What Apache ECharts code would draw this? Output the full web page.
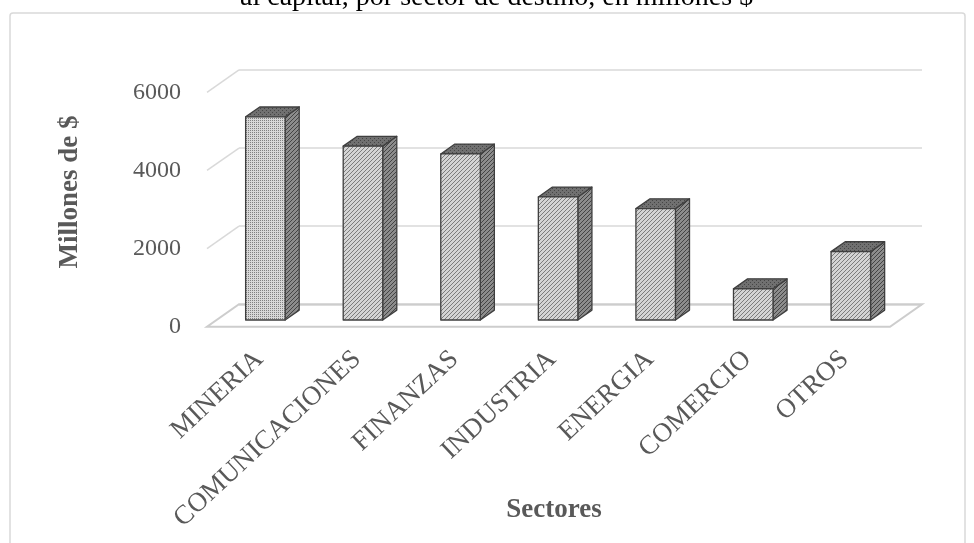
<!DOCTYPE html>
<html>
<head>
<meta charset="utf-8">
<script src="https://cdn.jsdelivr.net/npm/echarts@6/dist/echarts.min.js"></script>
<style>
  html, body { margin: 0; padding: 0; background: #fff; }
  #chart { width: 974px; height: 543px; }
</style>
</head>
<body>
<div id="chart"></div>
<script>
// Sectors and investment amounts (millions of $)
const categories = ['MINERIA', 'COMUNICACIONES', 'FINANZAS', 'INDUSTRIA', 'ENERGIA', 'COMERCIO', 'OTROS'];
const values = [5200, 4450, 4250, 3150, 2850, 800, 1750];
const yTicks = [0, 2000, 4000, 6000];

const SERIF = "'Liberation Serif', 'Times New Roman', serif";

// Pseudo-3D layout: front plane, plane where the bar fronts sit, back wall
const FRONT = { left: 207, top: 92.3, width: 683, height: 234.4 };
const DX = 32, DY = -22.4;          // full depth offset of the floor
const BAR_Z0 = 0.3;                 // depth fraction of the bar front faces
const BAR_DEPTH = 0.44;             // depth fraction occupied by each bar
const BAR_WIDTH = 0.405;            // fraction of a category band

function makePattern(size, bg, fg, pixels) {
  const c = document.createElement('canvas');
  c.width = size; c.height = size;
  const ctx = c.getContext('2d');
  ctx.fillStyle = bg; ctx.fillRect(0, 0, size, size);
  ctx.fillStyle = fg;
  pixels.forEach(p => ctx.fillRect(p[0], p[1], 1, 1));
  return c;
}
const diagPixels = [[3, 0], [2, 1], [1, 2], [0, 3]];
const dotPixels = [[0, 0], [2, 2]];
const frontHatch = makePattern(4, '#d4d4d4', '#7c7c7c', diagPixels);
const frontDots = makePattern(4, '#d8d8d8', '#808080', dotPixels.concat([[2, 0], [0, 2]]));
const sideHatch = makePattern(4, '#8c8c8c', '#444444', diagPixels);
const topDots = makePattern(4, '#707070', '#454545', dotPixels);

function gridAt(f) {
  return { left: FRONT.left + DX * f, top: FRONT.top + DY * f, width: FRONT.width, height: FRONT.height };
}

const chart = echarts.init(document.getElementById('chart'), null, { renderer: 'canvas' });

const valueAxisBase = { type: 'value', min: 0, max: 6000, interval: 2000 };

chart.setOption({
  animation: false,
  backgroundColor: '#ffffff',
  title: {
    text: 'al capital, por sector de destino, en millones $',
    left: 240, top: -16, padding: 0,
    textStyle: { fontFamily: SERIF, fontSize: 28, fontWeight: 'normal', color: '#000000' }
  },
  graphic: [{
    type: 'rect', silent: true,
    shape: { x: 10, y: 13, width: 955, height: 560, r: 3 },
    style: { fill: 'none', stroke: '#d9d9d9', lineWidth: 1.5 }
  }],
  grid: [
    Object.assign({ containLabel: false }, gridAt(0)),
    Object.assign({ containLabel: false }, gridAt(BAR_Z0)),
    Object.assign({ containLabel: false }, gridAt(1))
  ],
  xAxis: [
    {
      type: 'category', gridIndex: 0, data: categories,
      axisLine: { show: false }, axisTick: { show: false }, axisLabel: { show: false },
      name: 'Sectores', nameLocation: 'middle', nameGap: 170,
      nameTextStyle: { fontFamily: SERIF, fontSize: 27, fontWeight: 'bold', color: '#595959', padding: [0, 0, 0, 11] }
    },
    {
      type: 'category', gridIndex: 1, data: categories,
      axisLine: { show: false }, axisTick: { show: false },
      axisLabel: {
        rotate: 43, margin: 30, padding: [0, 8, 0, 0],
        fontFamily: SERIF, fontSize: 27, color: '#595959', interval: 0
      }
    },
    {
      type: 'category', gridIndex: 2, data: categories, show: false
    }
  ],
  yAxis: [
    Object.assign({}, valueAxisBase, {
      gridIndex: 0,
      axisLine: { show: false }, axisTick: { show: false }, splitLine: { show: false },
      axisLabel: {
        margin: 26, fontFamily: SERIF, fontSize: 24, color: '#595959',
        formatter: v => String(v)
      }
    }),
    Object.assign({}, valueAxisBase, { gridIndex: 1, show: false }),
    Object.assign({}, valueAxisBase, {
      gridIndex: 2,
      axisLine: { show: false }, axisTick: { show: false }, axisLabel: { show: false },
      splitLine: { show: true, lineStyle: { color: '#d9d9d9', width: 1.5 } },
      name: 'Millones de $', nameLocation: 'middle', nameGap: 155,
      nameTextStyle: { fontFamily: SERIF, fontSize: 27, fontWeight: 'bold', color: '#595959', padding: [0, 10, 0, 0] }
    })
  ],
  series: [
    {
      // floor outline and side-wall connectors of the gridlines
      type: 'custom', xAxisIndex: 0, yAxisIndex: 0, silent: true, z: 1,
      data: yTicks.map(v => [0, v]),
      encode: { x: 0, y: 1 },
      renderItem: function (params, api) {
        const cs = params.coordSys;
        const y = api.coord([0, api.value(1)])[1];
        const x = cs.x;
        if (api.value(1) === 0) {
          return {
            type: 'polygon',
            shape: { points: [[x, y], [x + cs.width, y], [x + cs.width + DX, y + DY], [x + DX, y + DY]] },
            style: { fill: 'none', stroke: '#cdcdcd', lineWidth: 2 }
          };
        }
        return {
          type: 'line',
          shape: { x1: x, y1: y, x2: x + DX, y2: y + DY },
          style: { stroke: '#d9d9d9', lineWidth: 1.5 }
        };
      }
    },
    {
      // 3D-looking columns
      type: 'custom', xAxisIndex: 1, yAxisIndex: 1, silent: true, z: 3,
      data: values.map((v, i) => [i, v]),
      encode: { x: 0, y: 1 },
      renderItem: function (params, api) {
        const i = api.value(0);
        const top = api.coord([i, api.value(1)]);
        const base = api.coord([i, 0]);
        const band = api.size([1, 0])[0];
        const w = band * BAR_WIDTH;
        const x0 = top[0] - w / 2, x1 = top[0] + w / 2;
        const yt = top[1], yb = base[1];
        const dx = DX * BAR_DEPTH, dy = DY * BAR_DEPTH;
        const edge = { stroke: '#3f3f3f', lineWidth: 1.3, lineJoin: 'round' };
        return {
          type: 'group',
          children: [
            {
              type: 'polygon',
              shape: { points: [[x1, yt], [x1 + dx, yt + dy], [x1 + dx, yb + dy], [x1, yb]] },
              style: Object.assign({ fill: { image: sideHatch, repeat: 'repeat' } }, edge)
            },
            {
              type: 'polygon',
              shape: { points: [[x0, yt], [x1, yt], [x1 + dx, yt + dy], [x0 + dx, yt + dy]] },
              style: Object.assign({ fill: { image: topDots, repeat: 'repeat' } }, edge)
            },
            {
              type: 'rect',
              shape: { x: x0, y: yt, width: w, height: yb - yt },
              style: Object.assign({ fill: { image: i === 0 ? frontDots : frontHatch, repeat: 'repeat' } }, edge)
            }
          ]
        };
      }
    }
  ]
});
</script>
</body>
</html>
